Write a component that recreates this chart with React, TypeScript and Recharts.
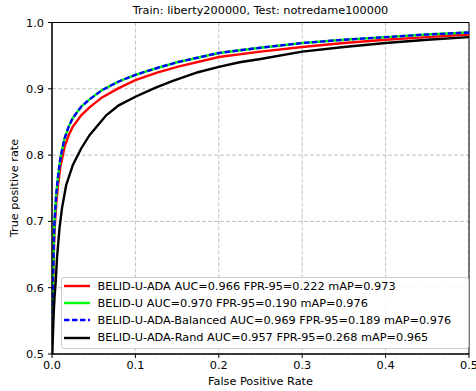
import React from 'react';
import { LineChart, Line, XAxis, YAxis, CartesianGrid, ReferenceArea } from 'recharts';

const title = 'Train: liberty200000, Test: notredame100000';
const xLabel = 'False Positive Rate';
const yLabel = 'True positive rate';
const xTicks = [0, 0.1, 0.2, 0.3, 0.4, 0.5];
const yTicks = [0.5, 0.6, 0.7, 0.8, 0.9, 1.0];

const seriesNames = [
  'BELID-U-ADA AUC=0.966 FPR-95=0.222 mAP=0.973',
  'BELID-U AUC=0.970 FPR-95=0.190 mAP=0.976',
  'BELID-U-ADA-Balanced AUC=0.969 FPR-95=0.189 mAP=0.976',
  'BELID-U-ADA-Rand AUC=0.957 FPR-95=0.268 mAP=0.965',
];
const seriesColors = ['#ff0000', '#00ff00', '#0000ff', '#000000'];
const seriesDash = ['', '', '5.5 2.5', ''];

const redFpr = [0, 0.001, 0.002, 0.003, 0.005, 0.007, 0.01, 0.015, 0.02, 0.025, 0.035, 0.045, 0.06, 0.08, 0.1, 0.125, 0.15, 0.2, 0.25, 0.3, 0.35, 0.4, 0.45, 0.5];
const redTpr = [0.5, 0.59, 0.645, 0.685, 0.725, 0.752, 0.782, 0.812, 0.83, 0.843, 0.86, 0.872, 0.887, 0.901, 0.913, 0.924, 0.933, 0.948, 0.956, 0.963, 0.969, 0.974, 0.978, 0.982];

const greenFpr = [0, 0.001, 0.002, 0.003, 0.005, 0.007, 0.01, 0.015, 0.02, 0.025, 0.035, 0.045, 0.06, 0.08, 0.1, 0.125, 0.15, 0.2, 0.25, 0.3, 0.35, 0.4, 0.45, 0.5];
const greenTpr = [0.5, 0.6, 0.66, 0.7, 0.74, 0.765, 0.795, 0.825, 0.843, 0.856, 0.873, 0.884, 0.898, 0.911, 0.921, 0.931, 0.94, 0.954, 0.962, 0.969, 0.974, 0.978, 0.982, 0.985];

const blueFpr = [0, 0.001, 0.002, 0.003, 0.005, 0.007, 0.01, 0.015, 0.02, 0.025, 0.035, 0.045, 0.06, 0.08, 0.1, 0.125, 0.15, 0.2, 0.25, 0.3, 0.35, 0.4, 0.45, 0.5];
const blueTpr = [0.5, 0.6, 0.66, 0.7, 0.74, 0.765, 0.795, 0.825, 0.843, 0.856, 0.873, 0.884, 0.898, 0.911, 0.921, 0.931, 0.94, 0.954, 0.962, 0.969, 0.974, 0.978, 0.982, 0.985];

const blackFpr = [0, 0.001, 0.002, 0.003, 0.0045, 0.006, 0.009, 0.012, 0.017, 0.025, 0.035, 0.045, 0.065, 0.08, 0.1, 0.125, 0.145, 0.175, 0.2, 0.225, 0.25, 0.3, 0.35, 0.4, 0.45, 0.5];
const blackTpr = [0.5, 0.525, 0.56, 0.585, 0.61, 0.645, 0.69, 0.72, 0.755, 0.785, 0.81, 0.83, 0.86, 0.875, 0.888, 0.902, 0.912, 0.925, 0.933, 0.94, 0.945, 0.956, 0.963, 0.969, 0.974, 0.978];

const zip = (xs: number[], ys: number[]) => xs.map((x, i) => ({ x, y: ys[i] }));
const seriesData = [zip(redFpr, redTpr), zip(greenFpr, greenTpr), zip(blueFpr, blueTpr), zip(blackFpr, blackTpr)];

const FONT = '"DejaVu Sans", sans-serif';
const FS = 11.3;
const W = 476;
const H = 391;
const PLOT_LEFT = 52;
const PLOT_RIGHT = 469;
const PLOT_TOP = 22.5;
const PLOT_BOTTOM = 354;

export default function App() {
  const tickStyle = { fontSize: FS, fill: '#000', fontFamily: FONT };
  return (
    <div style={{ position: 'absolute', left: 0, top: 0, width: W, height: H, background: '#fff', fontFamily: FONT }}>
      <LineChart
        width={W}
        height={H}
        margin={{ top: PLOT_TOP, right: W - PLOT_RIGHT, bottom: 0, left: 0 }}
      >
        <CartesianGrid stroke="#b0b0b0" strokeDasharray="4 2" strokeWidth={0.8} />
        <XAxis
          dataKey="x"
          type="number"
          domain={[0, 0.5]}
          ticks={xTicks}
          allowDataOverflow
          height={H - PLOT_BOTTOM}
          tickSize={4}
          tickMargin={3}
          tickFormatter={(v: number) => v.toFixed(1)}
          tick={tickStyle}
          stroke="#000"
        />
        <YAxis
          dataKey="y"
          type="number"
          domain={[0.5, 1.0]}
          ticks={yTicks}
          allowDataOverflow
          width={PLOT_LEFT}
          tickSize={4}
          tickMargin={4}
          tickFormatter={(v: number) => v.toFixed(1)}
          tick={tickStyle}
          stroke="#000"
        />
        {seriesData.map((d, i) => (
          <Line
            key={i}
            data={d}
            dataKey="y"
            type="linear"
            dot={false}
            activeDot={false}
            stroke={seriesColors[i]}
            strokeWidth={2.4}
            strokeDasharray={seriesDash[i] || undefined}
            isAnimationActive={false}
          />
        ))}
        <ReferenceArea x1={0} x2={0.5} y1={0.5} y2={1.0} fill="none" stroke="#000" strokeWidth={1} ifOverflow="visible" />
      </LineChart>

      <div style={{ position: 'absolute', left: PLOT_LEFT, width: PLOT_RIGHT - PLOT_LEFT, top: 3, textAlign: 'center', fontSize: FS, lineHeight: '16px', color: '#000' }}>
        {title}
      </div>
      <div style={{ position: 'absolute', left: PLOT_LEFT, width: PLOT_RIGHT - PLOT_LEFT, top: 374, textAlign: 'center', fontSize: FS, lineHeight: '16px', color: '#000' }}>
        {xLabel}
      </div>
      <div style={{ position: 'absolute', left: 14.5 - 100, top: 188 - 8, width: 200, textAlign: 'center', fontSize: FS, lineHeight: '16px', color: '#000', transform: 'rotate(-90deg)', transformOrigin: '50% 50%' }}>
        {yLabel}
      </div>

      <div style={{ position: 'absolute', left: 60.5, top: 276.5, width: 406, height: 70.5, border: '1px solid #cccccc', borderRadius: 3, background: 'rgba(255,255,255,0.85)', boxSizing: 'content-box', paddingTop: 0 }}>
        {seriesNames.map((name, i) => (
          <div key={i} style={{ height: 17.2, display: 'flex', alignItems: 'center', fontSize: FS, color: '#000', whiteSpace: 'nowrap' }}>
            <svg width={26} height={6} style={{ marginLeft: 2, marginRight: 8, flex: 'none' }}>
              <line x1={0} y1={3} x2={26} y2={3} stroke={seriesColors[i]} strokeWidth={2.4} strokeDasharray={seriesDash[i] || undefined} />
            </svg>
            <span>{name}</span>
          </div>
        ))}
      </div>
    </div>
  );
}
